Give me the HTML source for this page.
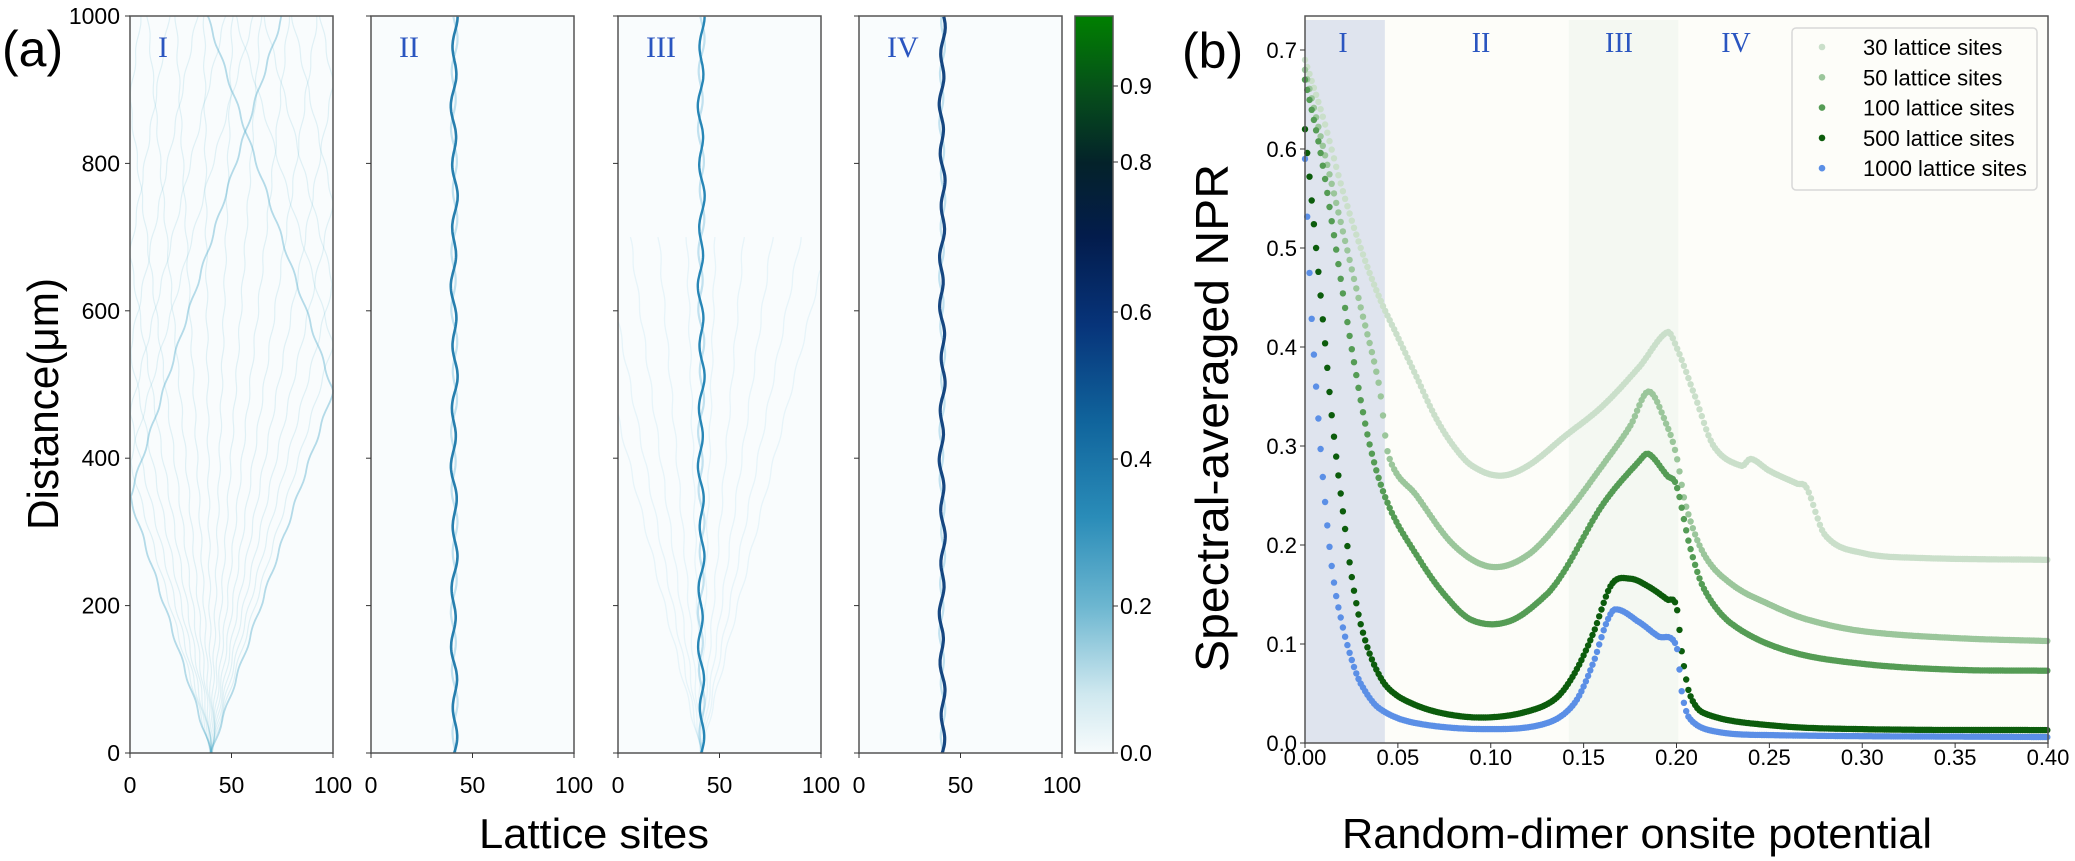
<!DOCTYPE html>
<html><head><meta charset="utf-8"><style>
html,body{margin:0;padding:0;background:#fff;}
svg{display:block;font-family:"Liberation Sans",sans-serif;}
</style></head><body>
<svg id="s" width="2075" height="861" viewBox="0 0 2075 861" xmlns="http://www.w3.org/2000/svg">
<defs>
<linearGradient id="cb" x1="0" y1="1" x2="0" y2="0">
<stop offset="0" stop-color="#f7fbfc"/>
<stop offset="0.08" stop-color="#cfe8ef"/>
<stop offset="0.2" stop-color="#6cb6d0"/>
<stop offset="0.32" stop-color="#2a8cb8"/>
<stop offset="0.45" stop-color="#10649c"/>
<stop offset="0.58" stop-color="#07347a"/>
<stop offset="0.7" stop-color="#031c4c"/>
<stop offset="0.8" stop-color="#04222a"/>
<stop offset="0.9" stop-color="#06501a"/>
<stop offset="1" stop-color="#008000"/>
</linearGradient>
</defs>
<rect width="2075" height="861" fill="#fff"/>
<g id="left"></g>
<g id="right"></g>
<text x="2" y="66" font-size="50">(a)</text>
<text x="1182" y="68" font-size="50">(b)</text>
<text transform="translate(58,404) rotate(-90)" font-size="44" text-anchor="middle" textLength="252" lengthAdjust="spacingAndGlyphs">Distance(μm)</text>
<text x="594" y="848" font-size="42" text-anchor="middle" textLength="230" lengthAdjust="spacingAndGlyphs">Lattice sites</text>
<text transform="translate(1228,418) rotate(-90)" font-size="46" text-anchor="middle" textLength="508" lengthAdjust="spacingAndGlyphs">Spectral-averaged NPR</text>
<text x="1637" y="848" font-size="42" text-anchor="middle" textLength="590" lengthAdjust="spacingAndGlyphs">Random-dimer onsite potential</text>
</svg>
<script>
(function(){
var NS="http://www.w3.org/2000/svg";
function el(p,t,a,txt){var e=document.createElementNS(NS,t);for(var k in a)e.setAttribute(k,a[k]);if(txt!=null)e.textContent=txt;p.appendChild(e);return e;}
var L=document.getElementById('left'),R=document.getElementById('right');
var panels=[130,371,618,859],W=203,T=16,B=753;
function sy(d){return B-d*0.737;}
panels.forEach(function(px,i){
  el(L,'rect',{x:px,y:T,width:W,height:B-T,fill:'#f9fcfd'});
  var g=el(L,'g',{});
  function sx(s){return px+s*2.03;}
  if(i==0){
    var n=18;
    for(var k=0;k<n;k++){
      var v=-0.115+k*(0.237/(n-1));
      var edge=(k==0||k==n-1)?1:0;
      var pts=[];
      for(var d=0;d<=1000;d+=4){
        var pos=40+v*d;
        pos=((pos%200)+200)%200; if(pos>100)pos=200-pos;
        var w=Math.sin(d/9+k)*0.5;
        pts.push(sx(Math.min(100,Math.max(0,pos+w))).toFixed(1)+','+sy(d).toFixed(1));
      }
      el(g,'polyline',{points:pts.join(' '),fill:'none',stroke:'#4aa8c8','stroke-width':edge?1.8:1.2,'stroke-opacity':edge?0.4:0.14});
    }
  } else {
    if(i==2){
      for(var k=0;k<10;k++){
        var v=-0.09+k*0.02,pts=[];
        for(var d=0;d<=700;d+=5){var p=41+v*d+Math.sin(d/10+k)*0.5;if(p<0||p>100)break;pts.push(sx(p).toFixed(1)+','+sy(d).toFixed(1));}
        el(g,'polyline',{points:pts.join(' '),fill:'none',stroke:'#6cc0dc','stroke-width':1.3,'stroke-opacity':0.12});
      }
    }
    var col=['','#1b78aa','#1c80b2','#0b3d7a'][i],wd=[0,2.6,2.4,3.2][i];
    for(var h=1;h>=0;h--){
      var pts=[];
      for(var d=0;d<=1000;d+=3){
        var a=(i==3?1.0:1.2)*Math.sin(d/(i==3?11:13)+h*2.5)+0.5*Math.sin(d/37);
        pts.push(sx(41+a).toFixed(1)+','+sy(d).toFixed(1));
      }
      el(g,'polyline',{points:pts.join(' '),fill:'none',stroke:h?'#5ab0d4':col,'stroke-width':h?2.2:wd,'stroke-opacity':h?0.35:0.95});
    }
  }
  el(L,'rect',{x:px,y:T,width:W,height:B-T,fill:'none',stroke:'#555','stroke-width':1.5});
  [0,50,100].forEach(function(t){var x=px+t*2.03;el(L,'line',{x1:x,y1:B,x2:x,y2:B+5,stroke:'#333'});
    el(L,'text',{x:x,y:793,'font-size':23,'text-anchor':'middle'},t);});
  [0,200,400,600,800,1000].forEach(function(t){el(L,'line',{x1:px-5,y1:sy(t),x2:px,y2:sy(t),stroke:'#333'});
    if(i==0)el(L,'text',{x:px-10,y:sy(t)+8,'font-size':23,'text-anchor':'end'},t);});
  el(L,'text',{x:px+28,y:57,'font-size':30,fill:'#2a55c0','font-family':'Liberation Serif,serif'},['I','II','III','IV'][i]);
});
el(L,'rect',{x:1075,y:T,width:38,height:B-T,fill:'url(#cb)',stroke:'#555','stroke-width':1.5});
[[0,753],[0.2,606],[0.4,459],[0.6,312],[0.8,162],[0.9,86]].forEach(function(t){
  el(L,'line',{x1:1113,y1:t[1],x2:1118,y2:t[1],stroke:'#333'});
  el(L,'text',{x:1120,y:t[1]+8,'font-size':23},t[0].toFixed(1));});

var X0=1305,X1=2048,Y0=743,YS=990;
function rx(v){return X0+v*(X1-X0)/0.4;} function ry(v){return Y0-v*YS;}
el(R,'rect',{x:X0,y:T,width:X1-X0,height:Y0-T,fill:'#fdfdf9'});
el(R,'rect',{x:X0,y:20,width:rx(0.043)-X0,height:Y0-20,fill:'#dfe4ee'});
el(R,'rect',{x:rx(0.142),y:20,width:rx(0.201)-rx(0.142),height:Y0-20,fill:'#f4f8f2'});
var D=[
 ['#cadfca',[[0,.69],[.01,.63],[.02,.56],[.03,.5],[.04,.45],[.05,.41],[.06,.37],[.07,.33],[.08,.3],[.09,.28],[.105,.27],[.12,.28],[.14,.31],[.16,.34],[.18,.38],[.195,.415],[.2,.4],[.21,.35],[.22,.3],[.235,.28],[.24,.287],[.25,.275],[.265,.262],[.27,.258],[.28,.21],[.3,.192],[.33,.187],[.4,.185]]],
 ['#9bc69b',[[0,.68],[.01,.6],[.02,.52],[.03,.44],[.04,.36],[.045,.29],[.06,.25],[.08,.2],[.1,.178],[.12,.19],[.14,.23],[.16,.28],[.175,.32],[.185,.355],[.195,.32],[.2,.29],[.205,.24],[.215,.19],[.23,.16],[.25,.14],[.27,.125],[.3,.113],[.35,.106],[.4,.103]]],
 ['#559c55',[[0,.67],[.008,.6],[.015,.52],[.025,.4],[.035,.3],[.045,.24],[.06,.19],[.075,.15],[.09,.124],[.11,.123],[.13,.15],[.14,.175],[.16,.24],[.18,.285],[.185,.292],[.195,.27],[.2,.26],[.207,.2],[.215,.155],[.23,.12],[.26,.093],[.3,.08],[.35,.074],[.4,.073]]],
 ['#0c5c0c',[[0,.62],[.005,.52],[.01,.42],[.015,.32],[.02,.24],[.025,.17],[.03,.12],[.037,.08],[.045,.055],[.06,.038],[.08,.028],[.1,.026],[.12,.032],[.135,.045],[.145,.07],[.155,.11],[.165,.16],[.175,.166],[.185,.158],[.195,.145],[.2,.138],[.203,.09],[.207,.05],[.215,.03],[.25,.018],[.3,.014],[.4,.013]]],
 ['#5b8fe6',[[0,.59],[.003,.45],[.006,.36],[.01,.26],[.015,.17],[.02,.12],[.025,.085],[.03,.06],[.04,.035],[.06,.02],[.1,.014],[.13,.02],[.145,.04],[.155,.08],[.162,.12],[.167,.135],[.18,.122],[.19,.108],[.2,.098],[.203,.05],[.207,.025],[.22,.012],[.25,.008],[.4,.006]]]
];
function interp(P,v){
  for(var i=0;i<P.length-1;i++){if(v<=P[i+1][0]){
    var x0=P[i][0],x1=P[i+1][0],t=(v-x0)/(x1-x0),h=x1-x0;
    function sl(j){var a=P[Math.max(0,j-1)],b=P[Math.min(P.length-1,j+1)];return (b[1]-a[1])/(b[0]-a[0]);}
    var m0=sl(i)*h,m1=sl(i+1)*h,t2=t*t,t3=t2*t;
    return (2*t3-3*t2+1)*P[i][1]+(t3-2*t2+t)*m0+(-2*t3+3*t2)*P[i+1][1]+(t3-t2)*m1;}}
  return P[P.length-1][1];
}
D.forEach(function(s){var g=el(R,'g',{fill:s[0]});
  for(var v=0;v<=0.4;v+=0.0012){var y=interp(s[1],v);el(g,'circle',{cx:rx(v).toFixed(1),cy:ry(y).toFixed(1),r:3.2});}});
el(R,'rect',{x:X0,y:T,width:X1-X0,height:Y0-T,fill:'none',stroke:'#555','stroke-width':1.5});
for(var k=0;k<=8;k++){var v=k*0.05,x=rx(v);el(R,'line',{x1:x,y1:Y0,x2:x,y2:Y0+5,stroke:'#333'});
  el(R,'text',{x:x,y:765,'font-size':22,'text-anchor':'middle'},v.toFixed(2));}
for(var k=0;k<=7;k++){var y=ry(k*0.1);el(R,'line',{x1:X0-5,y1:y,x2:X0,y2:y,stroke:'#333'});
  el(R,'text',{x:X0-8,y:y+8,'font-size':22,'text-anchor':'end'},(k*0.1).toFixed(1));}
[['I',1343],['II',1481],['III',1619],['IV',1736]].forEach(function(r){
  el(R,'text',{x:r[1],y:52,'font-size':28,fill:'#2a55c0','text-anchor':'middle','font-family':'Liberation Serif,serif'},r[0]);});
el(R,'rect',{x:1792,y:28,width:245,height:162,rx:4,fill:'#fdfdf9',stroke:'#d8d8d8','stroke-width':1.5});
var names=['30 lattice sites','50 lattice sites','100 lattice sites','500 lattice sites','1000 lattice sites'];
names.forEach(function(n,i){var y=47+i*30.3;el(R,'circle',{cx:1822,cy:y,r:3.3,fill:D[i][0]});
  el(R,'text',{x:1863,y:y+8,'font-size':22},n);});
})();
</script>
</body></html>
